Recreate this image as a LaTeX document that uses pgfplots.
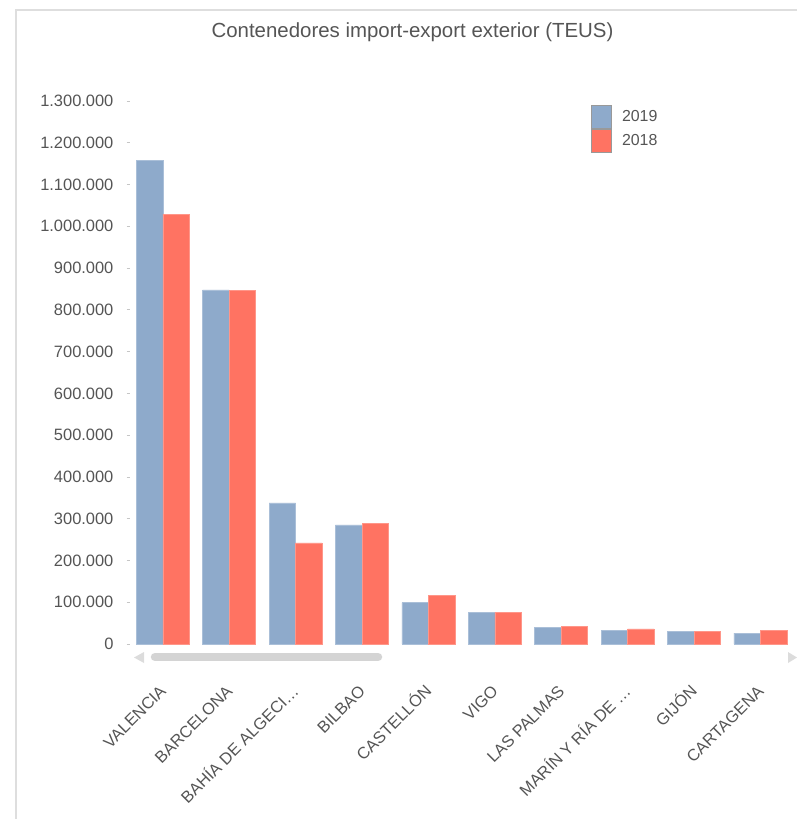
\documentclass[border=0pt]{standalone}
\usepackage{fontspec}
\setmainfont{Liberation Sans}
\usepackage{pgfplots}
\pgfplotsset{compat=1.18}
\definecolor{b19}{RGB}{142,170,203}
\definecolor{r18}{RGB}{255,115,98}
\definecolor{txt}{RGB}{85,85,85}
\definecolor{frm}{RGB}{222,222,222}
\definecolor{scroll}{RGB}{212,212,212}
\definecolor{arrowc}{RGB}{220,220,220}
\begin{document}
\begin{tikzpicture}[x=1bp,y=1bp]
\path[use as bounding box] (0,0) rectangle (797,-819);
\draw[frm, line width=2bp] (16,-819) -- (16,-10) -- (797,-10);
\node[txt, font=\fontsize{20.5}{24}\selectfont, inner sep=0pt] at (412.5,-32) {Contenedores import-export exterior (TEUS)};
\begin{axis}[
  at={(129.6bp,-644bp)}, anchor=south west,
  scale only axis, width=664bp, height=543bp,
  ybar=0pt, bar width=0.4,
  xmin=-0.5, xmax=9.5, ymin=0, ymax=1300000,
  axis line style={draw=none},
  xtick={0,1,2,3,4,5,6,7,8,9},
  xticklabels={VALENCIA,BARCELONA,BAHÍA DE ALGECI…,BILBAO,CASTELLÓN,VIGO,LAS PALMAS,MARÍN Y RÍA DE …,GIJÓN,CARTAGENA},
  x tick style={draw=none},
  ytick={0,100000,200000,300000,400000,500000,600000,700000,800000,900000,1000000,1100000,1200000,1300000},
  ytick pos=left,
  y tick style={draw=gray!45, line width=0.8bp},
  tick align=outside, major tick length=3bp,
  scaled y ticks=false,
  /pgf/number format/fixed,
  /pgf/number format/1000 sep={.},
  /pgf/number format/assume math mode=true,
  yticklabel style={txt, font=\fontsize{16.5}{19}\selectfont, inner sep=0pt, anchor=east, xshift=-13bp},
  xticklabel style={txt, font=\fontsize{16.5}{19}\selectfont, inner sep=0pt, rotate=45, anchor=east, text height=12bp, text depth=0bp},
  xticklabel shift=41bp,
  legend style={at={(axis description cs:0.6949,0.9926)}, anchor=north west, draw=none, fill=none, inner sep=0pt, row sep=0pt, font=\fontsize{16}{19}\selectfont, text=txt,
    /tikz/every odd column/.append style={column sep=8bp}},
  legend cell align=left,
  legend image code/.code={\draw[#1,draw=gray!80,line width=0.8bp] (0bp,-11.5bp) rectangle (20bp,11.5bp);},
  clip=false,
]
\addplot[fill=b19, draw=b19!75!white, line width=0.6bp] coordinates {
(0,1158000) (1,848000) (2,338000) (3,285000) (4,99000) (5,76000) (6,39000) (7,33000) (8,29500) (9,26000)};
\addplot[fill=r18, draw=r18!75!white, line width=0.6bp] coordinates {
(0,1029000) (1,846000) (2,242000) (3,289000) (4,117000) (5,76000) (6,43000) (7,36000) (8,29500) (9,32000)};
\legend{2019,2018}
\end{axis}
\draw[scroll, line width=8.5bp, line cap=round] (155,-657) -- (378,-657);
\fill[arrowc] (134,-657.5) -- (144,-652) -- (144,-663) -- cycle;
\fill[arrowc] (797,-657.5) -- (788,-652) -- (788,-663) -- cycle;
\end{tikzpicture}
\end{document}
